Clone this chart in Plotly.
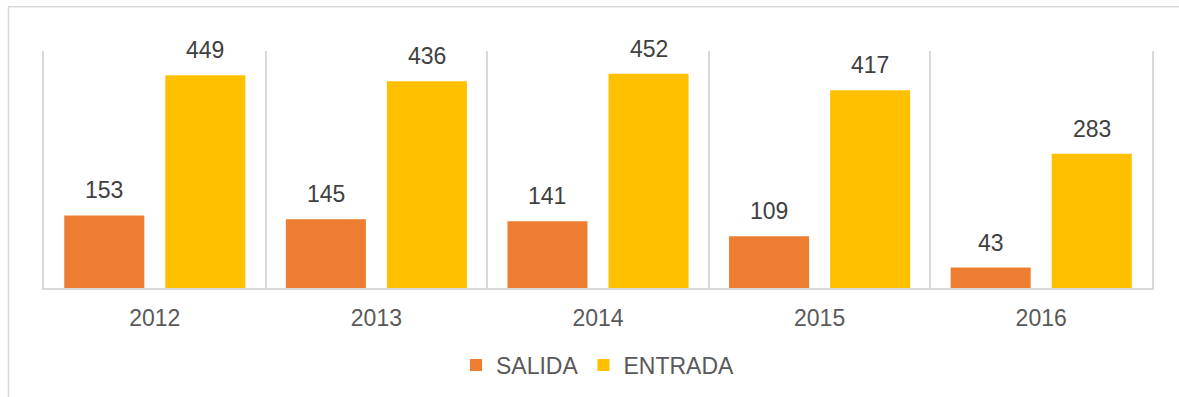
import plotly.graph_objects as go

# Yearly counts per direction
years = ["2012", "2013", "2014", "2015", "2016"]
salida = [153, 145, 141, 109, 43]
entrada = [449, 436, 452, 417, 283]

series = [
    ("SALIDA", salida, "#ED7D31"),
    ("ENTRADA", entrada, "#FFC000"),
]

FONT = "Liberation Sans, Arial, sans-serif"
BARGAP = 0.088
BARGROUPGAP = 0.208

fig = go.Figure()
for name, vals, color in series:
    fig.add_trace(go.Bar(
        name=name, x=years, y=vals,
        marker=dict(color=color, line=dict(width=0)),
        hoverinfo="x+y+name",
    ))

# Value labels above each bar, placed at the centre of each grouped slot
slot = (1 - BARGAP) / len(series)
annotations = []
for k, (name, vals, color) in enumerate(series):
    offset = -(1 - BARGAP) / 2 + slot * (k + 0.5)
    for i, v in enumerate(vals):
        annotations.append(dict(
            x=i + offset, y=v, xref="x", yref="y",
            text=str(v), showarrow=False,
            yanchor="middle", yshift=25,
            font=dict(family=FONT, size=23, color="#404040"),
        ))

fig.update_layout(
    width=1179, height=397,
    margin=dict(l=44, r=27, t=51, b=108),
    paper_bgcolor="white", plot_bgcolor="white",
    barmode="group", bargap=BARGAP, bargroupgap=BARGROUPGAP,
    font=dict(family=FONT, size=23, color="#595959"),
    showlegend=True,
    legend=dict(
        orientation="h", x=0.5, xanchor="center", y=-0.32, yanchor="middle",
        font=dict(family=FONT, size=23, color="#595959"),
        itemwidth=30, traceorder="normal",
    ),
    annotations=annotations,
    shapes=[dict(
        type="rect", xref="paper", yref="paper",
        x0=-0.032, x1=1.2, y0=1.187, y1=-0.8,
        line=dict(color="#D9D9D9", width=1.5), fillcolor="rgba(0,0,0,0)",
        layer="below",
    )],
)

fig.update_xaxes(
    type="category", tickson="boundaries",
    showgrid=True, gridcolor="#D9D9D9", gridwidth=1.5,
    showline=True, linecolor="#D9D9D9", linewidth=1.5,
    ticks="", ticklabelstandoff=9,
    tickfont=dict(family=FONT, size=23, color="#595959"),
)
# Vertical edge lines on both sides of the plot area
fig.update_yaxes(
    range=[0, 500], showgrid=False, zeroline=False,
    showticklabels=False,
    showline=True, mirror=True, linecolor="#D9D9D9", linewidth=1.5,
)

fig.write_html("out.html")
